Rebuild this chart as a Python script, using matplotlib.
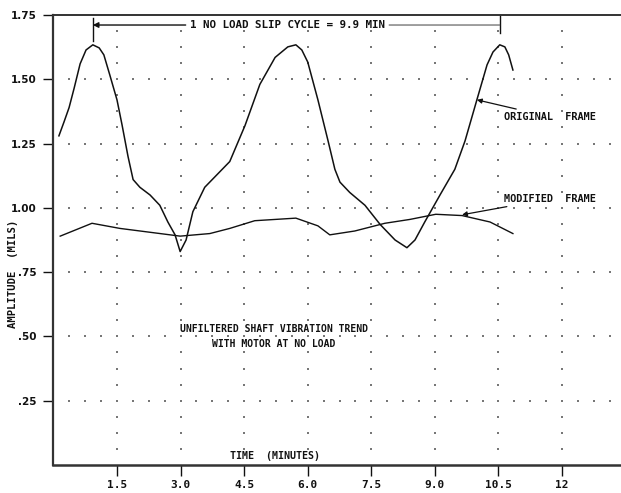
import numpy as np
import matplotlib.pyplot as plt
from matplotlib.ticker import FixedLocator

# time (minutes) and amplitude (mils)
orig_t = [0.13, 0.25, 0.37, 0.49, 0.63, 0.77, 0.93, 1.08, 1.19, 1.33, 1.50, 1.62,
          1.76, 1.88, 2.04, 2.28, 2.51, 2.70, 2.87, 2.99, 3.13, 3.29, 3.57, 4.16,
          4.52, 4.87, 5.23, 5.53, 5.72, 5.86, 6.00, 6.24, 6.48, 6.64, 6.76, 6.99,
          7.35, 7.71, 8.06, 8.34, 8.53, 8.76, 9.12, 9.47, 9.71, 9.99, 10.23, 10.37,
          10.53, 10.65, 10.74, 10.84]
orig_amp = [1.28, 1.334, 1.39, 1.466, 1.56, 1.614, 1.634, 1.622, 1.595, 1.517, 1.42, 1.322,
            1.20, 1.11, 1.08, 1.05, 1.01, 0.945, 0.895, 0.83, 0.875, 0.985, 1.08, 1.18,
            1.32, 1.48, 1.585, 1.626, 1.634, 1.614, 1.567, 1.42, 1.26, 1.15, 1.10, 1.06,
            1.01, 0.935, 0.875, 0.845, 0.875, 0.945, 1.05, 1.15, 1.26, 1.42, 1.556, 1.606,
            1.634, 1.626, 1.595, 1.536]

mod_t = [0.16, 0.91, 1.57, 2.28, 2.99, 3.69, 4.16, 4.75, 5.72, 6.24, 6.52, 7.11,
         7.82, 8.41, 9.02, 9.64, 10.30, 10.84]
mod_amp = [0.89, 0.94, 0.92, 0.905, 0.89, 0.90, 0.92, 0.95, 0.96, 0.93, 0.895, 0.91,
           0.94, 0.955, 0.975, 0.97, 0.945, 0.90]

x_ticks = [1.5, 3.0, 4.5, 6.0, 7.5, 9.0, 10.5, 12]
x_labels = ['1.5', '3.0', '4.5', '6.0', '7.5', '9.0', '10.5', '12']
y_ticks = [0.25, 0.50, 0.75, 1.00, 1.25, 1.50, 1.75]
y_labels = ['.25', '.50', '.75', '1.00', '1.25', '1.50', '1.75']

cycle_start, cycle_end = 0.93, 10.53

mono = 'DejaVu Sans Mono'
ink = '#111111'

fig = plt.figure(figsize=(6.21, 4.93), dpi=100)
ax = fig.add_axes([0.086, 0.0568, 0.914, 0.9128])
ax.set_xlim(0, 13.39)
ax.set_ylim(0, 1.75)

# dotted grid: rows at each amplitude tick, columns at each time tick
gx = np.arange(0.375, 13.39, 0.375)
for yv in y_ticks[:-1]:
    ax.scatter(gx, np.full_like(gx, yv), s=1.2, c='#777777', marker='s', lw=0)
gy = np.arange(0.0625, 1.75, 0.0625)
for xv in x_ticks:
    ax.scatter(np.full_like(gy, xv), gy, s=1.2, c='#777777', marker='s', lw=0)

ax.plot(orig_t, orig_amp, color=ink, lw=1.1)
ax.plot(mod_t, mod_amp, color=ink, lw=1.0)

# slip cycle marker
ax.plot([cycle_start, cycle_start], [1.647, 1.737], color=ink, lw=1.0)
ax.plot([cycle_end, cycle_end], [1.68, 1.75], color=ink, lw=1.0)
ax.annotate('', xy=(cycle_start, 1.711), xytext=(3.12, 1.711),
            arrowprops=dict(arrowstyle='-|>', color=ink, lw=1.0, mutation_scale=8,
                            shrinkA=0, shrinkB=0))
ax.annotate('', xy=(cycle_end, 1.711), xytext=(7.92, 1.711),
            arrowprops=dict(arrowstyle='-', color='#555555', lw=0.8,
                            shrinkA=0, shrinkB=0))
ax.text(5.52, 1.711, '1 NO LOAD SLIP CYCLE = 9.9 MIN', family=mono, weight='bold',
        fontsize=7.8, ha='center', va='center', color=ink)

ax.annotate('ORIGINAL  FRAME', xy=(9.99, 1.42), xytext=(10.62, 1.354),
            family=mono, weight='bold', fontsize=7.4, va='center', color=ink,
            arrowprops=dict(arrowstyle='-|>', color=ink, lw=0.9, mutation_scale=7,
                            shrinkA=0, shrinkB=0))
ax.annotate('MODIFIED  FRAME', xy=(9.64, 0.973), xytext=(10.62, 1.035),
            family=mono, weight='bold', fontsize=7.4, va='center', color=ink,
            arrowprops=dict(arrowstyle='-|>', color=ink, lw=0.9, mutation_scale=7,
                            shrinkA=0, shrinkB=0))

ax.text(5.2, 0.53, 'UNFILTERED SHAFT VIBRATION TREND', family=mono, weight='bold',
        fontsize=7.0, ha='center', va='center', color=ink)
ax.text(5.2, 0.47, 'WITH MOTOR AT NO LOAD', family=mono, weight='bold',
        fontsize=7.0, ha='center', va='center', color=ink)
ax.text(5.23, 0.015, 'TIME  (MINUTES)', family=mono, weight='bold',
        fontsize=7.2, ha='center', va='bottom', color=ink)

fig.text(0.021, 0.444, 'AMPLITUDE  (MILS)', family=mono, weight='bold', fontsize=7.6,
         rotation=90, ha='center', va='center', color=ink)

ax.spines['right'].set_visible(False)
ax.spines['left'].set_linewidth(1.6)
ax.spines['bottom'].set_linewidth(1.8)
ax.spines['top'].set_linewidth(1.4)
for side in ['left', 'bottom', 'top']:
    ax.spines[side].set_color('#333333')

ax.xaxis.set_major_locator(FixedLocator(x_ticks))
ax.set_xticklabels(x_labels, family=mono, weight='bold', fontsize=8)
ax.yaxis.set_major_locator(FixedLocator(y_ticks))
ax.set_yticklabels(y_labels, weight='bold', fontsize=7.5)
ax.tick_params(axis='x', direction='out', length=8, width=1.0, pad=3, colors=ink)
ax.tick_params(axis='y', direction='out', length=7, width=1.0, pad=5, colors=ink)

fig.savefig('out.png', dpi=100, facecolor='white')
